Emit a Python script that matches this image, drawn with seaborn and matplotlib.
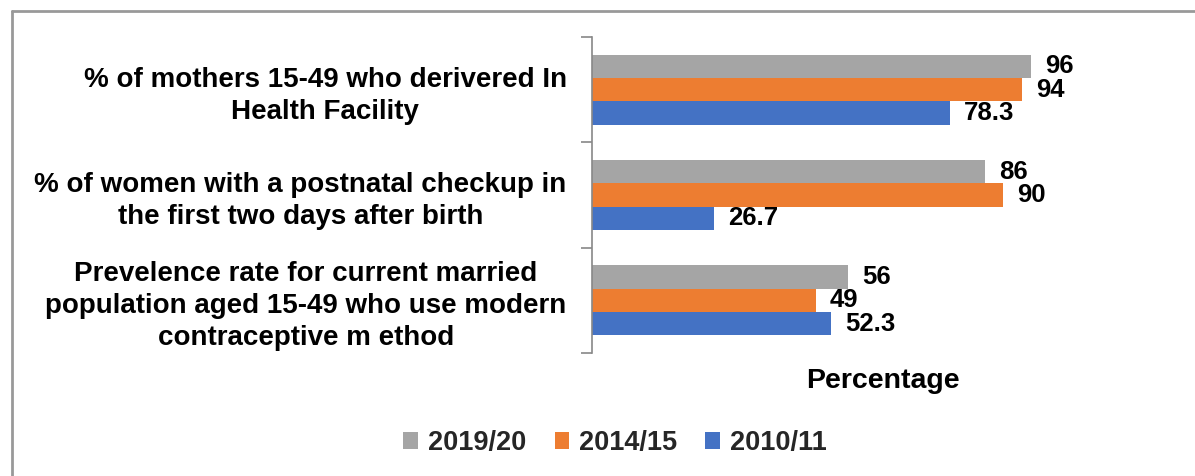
import matplotlib
matplotlib.use("Agg")
import matplotlib.pyplot as plt
import seaborn as sns
import pandas as pd
from matplotlib.lines import Line2D
from matplotlib.patches import Patch

categories = [
    "% of mothers 15-49 who derivered In\nHealth Facility",
    "% of women with a postnatal checkup in\nthe first two days after birth",
    "Prevelence rate for current married\npopulation aged 15-49 who use modern\ncontraceptive m ethod",
]
years = ["2019/20", "2014/15", "2010/11"]
values_2019_20 = [96, 86, 56]
values_2014_15 = [94, 90, 49]
values_2010_11 = [78.3, 26.7, 52.3]
value_labels = {
    "2019/20": ["96", "86", "56"],
    "2014/15": ["94", "90", "49"],
    "2010/11": ["78.3", "26.7", "52.3"],
}
colors = ["#A5A5A5", "#ED7D31", "#4472C4"]

rows = []
for yr, vals in zip(years, [values_2019_20, values_2014_15, values_2010_11]):
    for c, v in zip(categories, vals):
        rows.append({"Category": c, "Year": yr, "Value": v})
df = pd.DataFrame(rows)

sns.set_theme(style="white")
plt.rcParams["font.family"] = ["Liberation Sans", "DejaVu Sans"]

fig = plt.figure(figsize=(11.95, 4.76), dpi=100)
W, H = 1195, 476
ax = fig.add_axes([591.7 / W, 1 - 353 / H, (1175 - 591.7) / W, 316 / H])

sns.barplot(data=df, y="Category", x="Value", hue="Year", order=categories,
            hue_order=years, palette=colors, width=0.665, gap=0,
            orient="h", ax=ax, legend=False, saturation=1,
            edgecolor="none", linewidth=0)

for cont, yr in zip(ax.containers, years):
    ax.bar_label(cont, labels=value_labels[yr], padding=10, fontsize=18.5,
                 fontweight="bold", color="black")

ax.set_xlim(0, 127.5)
ax.set_ylim(2.5, -0.5)
ax.set_xticks([])
ax.set_yticks([-0.5, 0.5, 1.5, 2.5], minor=False)
ax.set_yticklabels([])
ax.set_yticks([0, 1, 2], minor=True)
ax.set_yticklabels(categories, minor=True, fontsize=20, fontweight="bold",
                   color="black", multialignment="center", linespacing=1.3)
ax.tick_params(axis="y", which="major", length=8, width=1.2, color="#888888",
               direction="out", left=True)
ax.tick_params(axis="y", which="minor", length=0, pad=18)
ax.set_ylabel("")
ax.set_xlabel("Percentage", fontsize=20.5, fontweight="bold", color="black",
              labelpad=11)
for s in ["top", "right", "bottom"]:
    ax.spines[s].set_visible(False)
ax.spines["left"].set_color("#888888")
ax.spines["left"].set_linewidth(1.2)

handles = [Patch(facecolor=c, edgecolor="none") for c in colors]
leg = fig.legend(handles, years, loc="center",
                 bbox_to_anchor=(615 / W, 1 - 443 / H), ncol=3, frameon=False,
                 prop={"size": 19.5, "weight": "bold"}, handlelength=0.55,
                 handleheight=0.55, handletextpad=0.35, columnspacing=1.05)

# outer frame (continues past right and bottom edges)
fig.add_artist(Line2D([12 / W, 1.01], [1 - 11 / H, 1 - 11 / H], color="#999999",
                      lw=2, transform=fig.transFigure))
fig.add_artist(Line2D([12 / W, 12 / W], [1 - 11 / H, -0.01], color="#999999",
                      lw=2, transform=fig.transFigure))

fig.savefig("out.png", dpi=100)
